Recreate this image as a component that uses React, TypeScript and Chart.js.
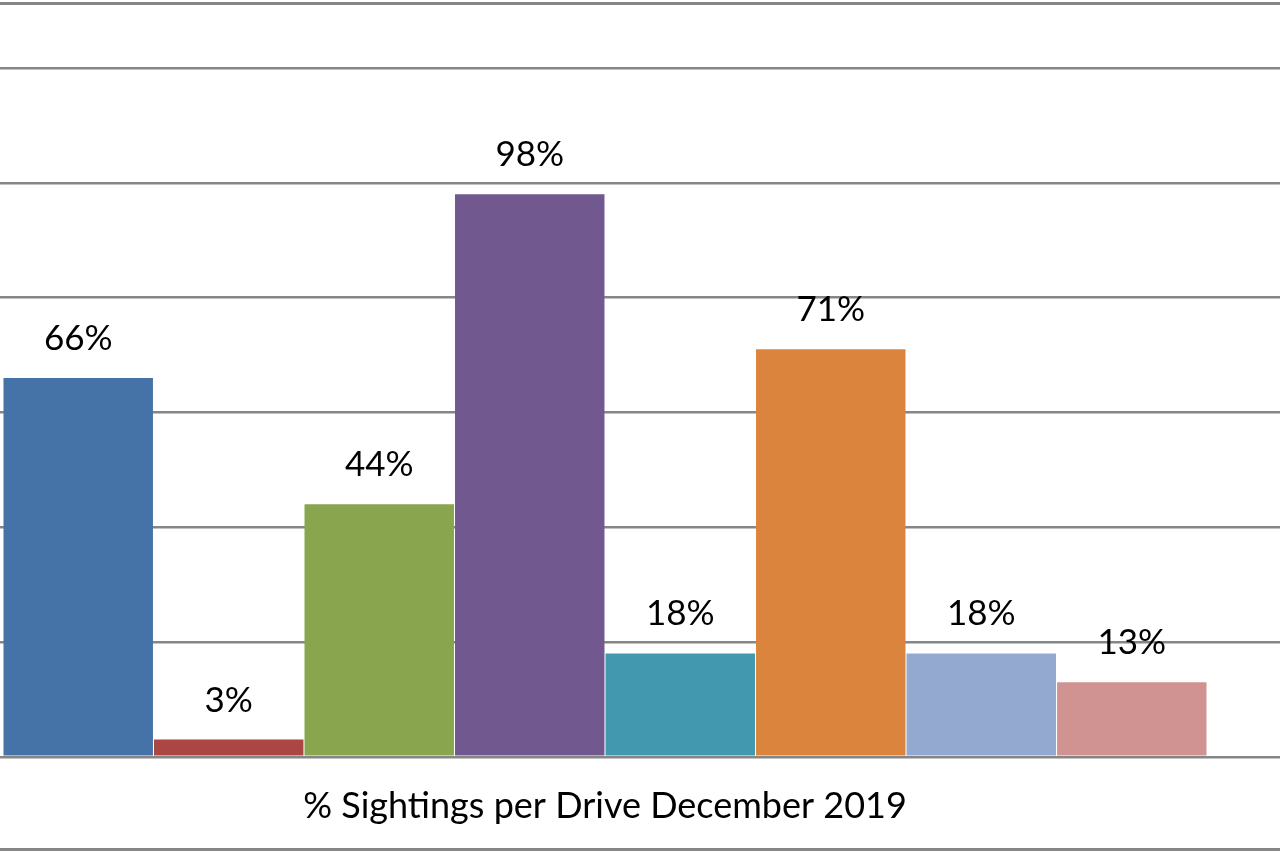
import { useEffect, useRef } from "react";
import { Chart, registerables, Plugin } from "chart.js";

Chart.register(...registerables);

// one category, one bar per drive (series names are not visible in the crop)
const categories = [""];
const seriesNames = ["Drive 1", "Drive 2", "Drive 3", "Drive 4", "Drive 5", "Drive 6", "Drive 7", "Drive 8"];
const seriesValues = [66, 3, 44, 98, 18, 71, 18, 13];
const seriesColors = ["#4572A7", "#AA4643", "#89A54E", "#71588F", "#4198AF", "#DB843D", "#93A9CF", "#D19392"];
const axisTitle = "% Sightings per Drive December 2019";

const FONT = "Lato, 'Open Sans', sans-serif";

// value labels above each bar
const valueLabels: Plugin<"bar"> = {
  id: "valueLabels",
  afterDatasetsDraw(chart) {
    const ctx = chart.ctx;
    ctx.save();
    ctx.font = `35px ${FONT}`;
    ctx.fillStyle = "#000";
    ctx.textAlign = "center";
    ctx.textBaseline = "alphabetic";
    chart.data.datasets.forEach((ds, i) => {
      const meta = chart.getDatasetMeta(i);
      meta.data.forEach((bar, j) => {
        const v = ds.data[j] as number;
        ctx.fillText(`${v}%`, bar.x, bar.y - 28);
      });
    });
    ctx.restore();
  },
};

export default function App() {
  const canvasRef = useRef<HTMLCanvasElement>(null);
  const chartRef = useRef<Chart | null>(null);

  useEffect(() => {
    if (!canvasRef.current) return;
    if (chartRef.current) chartRef.current.destroy();

    chartRef.current = new Chart(canvasRef.current, {
      type: "bar",
      data: {
        labels: categories,
        datasets: seriesNames.map((name, i) => ({
          label: name,
          data: [seriesValues[i]],
          backgroundColor: seriesColors[i],
          borderWidth: 0,
          categoryPercentage: 0.835,
          barPercentage: 0.993,
        })),
      },
      options: {
        responsive: false,
        animation: false,
        devicePixelRatio: 1,
        layout: { padding: { top: 68, bottom: 25, left: 0, right: 0 } },
        plugins: {
          legend: { display: false },
          tooltip: { enabled: false },
        },
        scales: {
          x: {
            grid: { display: false },
            border: { display: false },
            ticks: { display: false },
            title: {
              display: true,
              text: axisTitle,
              color: "#000",
              font: { family: FONT, size: 36 },
              padding: { top: 20, bottom: 0 },
            },
          },
          y: {
            min: 0,
            max: 120,
            ticks: { display: false, stepSize: 20 },
            border: { display: false },
            grid: { color: "#868686", lineWidth: 2.5, drawTicks: false },
          },
        },
      },
      plugins: [valueLabels],
    });

    return () => {
      if (chartRef.current) {
        chartRef.current.destroy();
        chartRef.current = null;
      }
    };
  }, []);

  return (
    <div style={{ position: "fixed", left: 0, top: 0, width: 1280, height: 853, overflow: "hidden", background: "#fff" }}>
      <div style={{ position: "absolute", left: -116, top: 0, width: 1442, height: 853 }}>
        <canvas ref={canvasRef} width={1442} height={853} />
      </div>
      <div style={{ position: "absolute", left: 0, top: 2, width: 1280, height: 3, background: "#868686" }} />
      <div style={{ position: "absolute", left: 0, top: 848, width: 1280, height: 3, background: "#868686" }} />
    </div>
  );
}
